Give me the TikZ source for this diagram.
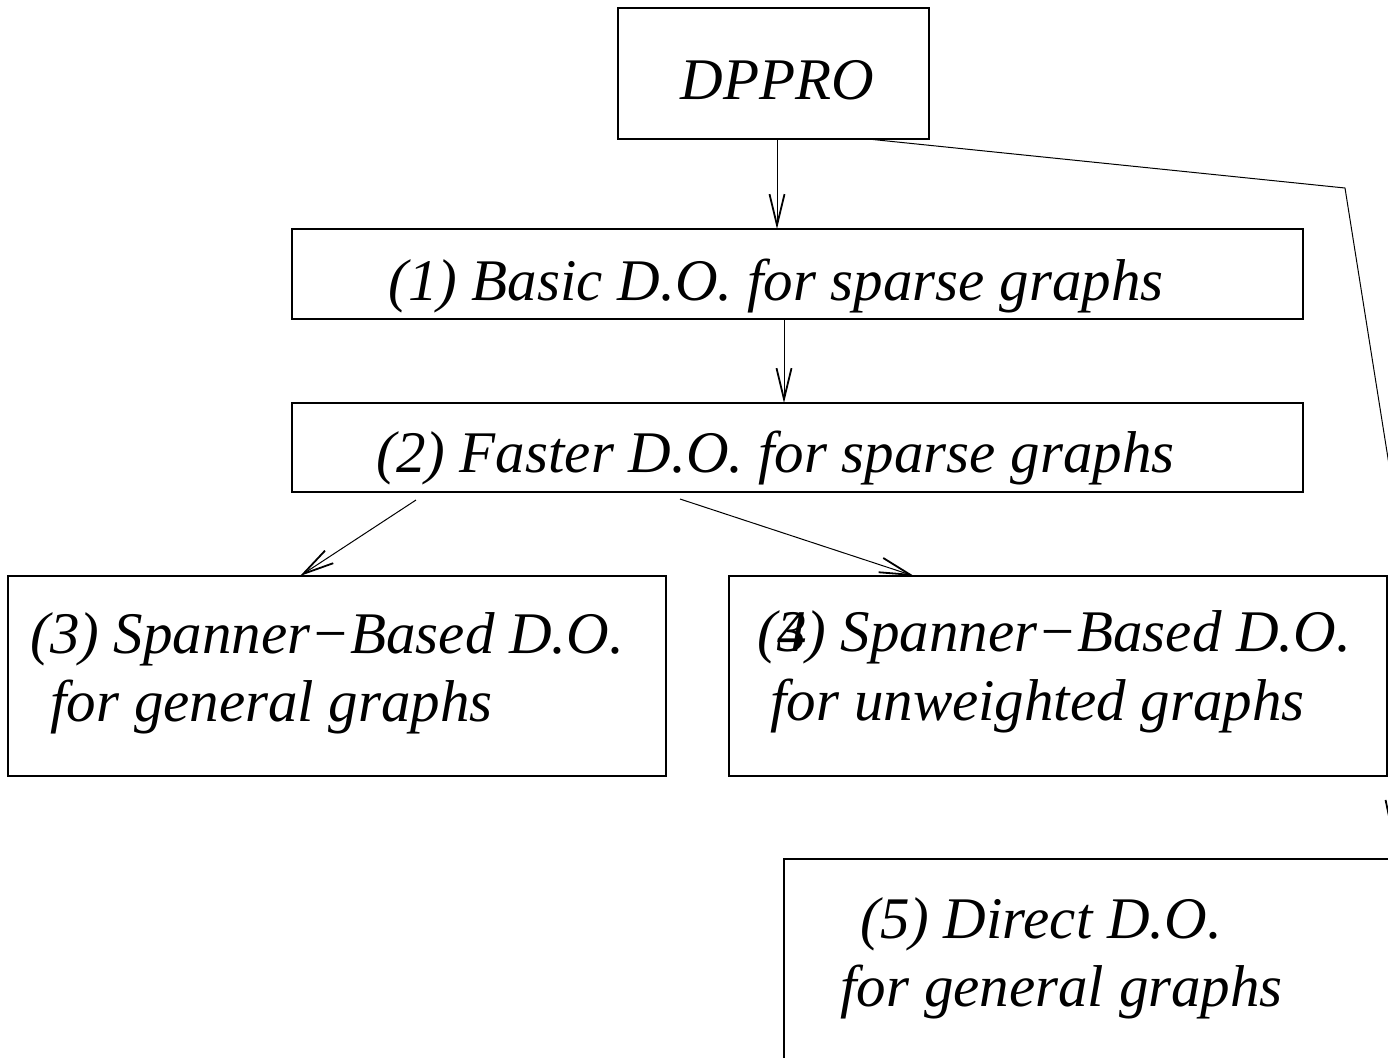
\documentclass[tikz,border=0pt]{standalone}
\usepackage{fontspec}
\setmainfont{Liberation Serif}
\usetikzlibrary{arrows.meta}
\begin{document}
\begin{tikzpicture}[x=0.5pt,y=-0.5pt,
  box/.style={draw, line width=0.7pt, rectangle, inner sep=0pt, outer sep=0pt},
  lbl/.style={anchor=base west, inner sep=0pt, font=\fontsize{29.5}{35}\selectfont\itshape},
  conn/.style={line width=0.5pt, -{Straight Barb[length=15.5pt,width=7.5pt,line width=0.9pt]}}]
\useasboundingbox (0,0) rectangle (1388,1057);
\clip (0,0) rectangle (1388,1057);
% boxes
\node[box, minimum width=155.5pt, minimum height=65.5pt] (dp) at (773.5,73.5) {};
\node[box, minimum width=505.5pt, minimum height=45pt] (b1) at (797.5,274) {};
\node[box, minimum width=505.5pt, minimum height=44.5pt] (b2) at (797.5,447.5) {};
\node[box, minimum width=329pt, minimum height=100pt] (b3) at (337,676) {};
\node[box, minimum width=329pt, minimum height=100pt] (b4) at (1058,676) {};
\node[box, minimum width=329pt, minimum height=100pt] (b5) at (1113,959) {};
% texts
\node[lbl] (tdp) at (680,99) {DPPRO};
\node[lbl] (t1) at (388,300) {(1) Basic D.O. for sparse graphs};
\node[lbl] (t2) at (376,472) {(2) Faster D.O. for sparse graphs};
\node[lbl] (t3a) at (30,653) {(3) Spanner−Based D.O.};
\node[lbl] (t3b) at (50,721) {for general graphs};
\node[lbl] (t4a) at (757,651) {(\rlap{3}4) Spanner−Based D.O.};
\node[lbl] (t4b) at (770,720) {for unweighted graphs};
\node[lbl] (t5a) at (860,938) {(5) Direct D.O.};
\node[lbl] (t5b) at (840,1006) {for general graphs};
% connectors
\draw[conn] ([xshift=1.75pt]dp.south) -- ([xshift=-10.25pt]b1.north);
\draw[conn] ([xshift=-6.75pt]b1.south) -- ([xshift=-6.75pt]b2.north);
\draw[conn] ([xshift=-190.75pt,yshift=-4pt]b2.south) -- ([xshift=-18.5pt]b3.north);
\draw[conn] ([xshift=-58.75pt,yshift=-3.5pt]b2.south) -- ([xshift=-72pt]b4.north);
\draw[conn] ([xshift=47.25pt]dp.south) -- (1345,188) -- (1401,540) -- ([xshift=139.5pt,yshift=12pt]b5.north);
\end{tikzpicture}
\end{document}
